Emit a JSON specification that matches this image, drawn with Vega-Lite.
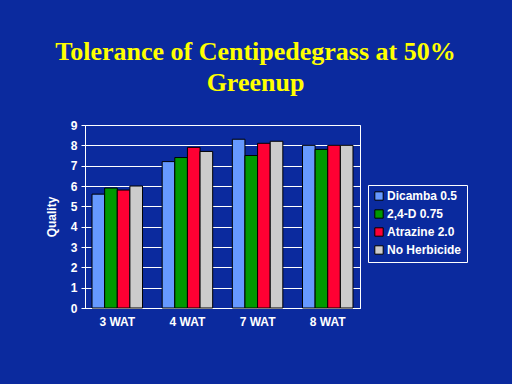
{
  "$schema": "https://vega.github.io/schema/vega-lite/v6.json",
  "autosize": {"type": "none"},
  "width": 275,
  "height": 183,
  "padding": {"left": 85, "top": 125, "right": 152, "bottom": 76},
  "background": "#0b2a9e",
  "title": {
    "text": ["Tolerance of Centipedegrass at 50%", "Greenup"],
    "font": "Liberation Serif",
    "fontSize": 26,
    "fontWeight": "bold",
    "color": "#ffff00",
    "lineHeight": 31,
    "anchor": "middle",
    "dx": 33,
    "offset": 23
  },
  "data": {
    "values": [
      {"week": "3 WAT", "treatment": "Dicamba 0.5", "quality": 5.6},
      {"week": "3 WAT", "treatment": "2,4-D 0.75", "quality": 5.9},
      {"week": "3 WAT", "treatment": "Atrazine 2.0", "quality": 5.8},
      {"week": "3 WAT", "treatment": "No Herbicide", "quality": 6.0},
      {"week": "4 WAT", "treatment": "Dicamba 0.5", "quality": 7.2},
      {"week": "4 WAT", "treatment": "2,4-D 0.75", "quality": 7.4},
      {"week": "4 WAT", "treatment": "Atrazine 2.0", "quality": 7.9},
      {"week": "4 WAT", "treatment": "No Herbicide", "quality": 7.7},
      {"week": "7 WAT", "treatment": "Dicamba 0.5", "quality": 8.3},
      {"week": "7 WAT", "treatment": "2,4-D 0.75", "quality": 7.5},
      {"week": "7 WAT", "treatment": "Atrazine 2.0", "quality": 8.1},
      {"week": "7 WAT", "treatment": "No Herbicide", "quality": 8.2},
      {"week": "8 WAT", "treatment": "Dicamba 0.5", "quality": 8.0},
      {"week": "8 WAT", "treatment": "2,4-D 0.75", "quality": 7.8},
      {"week": "8 WAT", "treatment": "Atrazine 2.0", "quality": 8.0},
      {"week": "8 WAT", "treatment": "No Herbicide", "quality": 8.0}
    ]
  },
  "mark": {"type": "bar", "stroke": "#000000", "strokeWidth": 1},
  "encoding": {
    "x": {
      "field": "week",
      "type": "nominal",
      "sort": null,
      "title": null,
      "scale": {"paddingInner": 0.28, "paddingOuter": 0.1},
      "axis": {
        "labelAngle": 0,
        "labelColor": "#ffffff",
        "labelFont": "Liberation Sans",
        "labelFontSize": 12,
        "labelFontWeight": "bold",
        "labelPadding": 8,
        "domainColor": "#ffffff",
        "domainWidth": 1,
        "tickColor": "#ffffff",
        "ticks": false,
        "grid": false
      }
    },
    "xOffset": {
      "field": "treatment",
      "type": "nominal",
      "sort": ["Dicamba 0.5", "2,4-D 0.75", "Atrazine 2.0", "No Herbicide"]
    },
    "y": {
      "field": "quality",
      "type": "quantitative",
      "title": "Quality",
      "scale": {"domain": [0, 9], "nice": false},
      "axis": {
        "values": [0, 1, 2, 3, 4, 5, 6, 7, 8, 9],
        "labelColor": "#ffffff",
        "labelFont": "Liberation Sans",
        "labelFontSize": 12,
        "labelFontWeight": "bold",
        "labelPadding": 4,
        "domainColor": "#ffffff",
        "tickColor": "#ffffff",
        "tickSize": 4,
        "gridColor": "#ffffff",
        "gridWidth": 1,
        "gridOpacity": 1,
        "titleColor": "#ffffff",
        "titleFont": "Liberation Sans",
        "titleFontSize": 12,
        "titleFontWeight": "bold",
        "titlePadding": 12
      }
    },
    "color": {
      "field": "treatment",
      "type": "nominal",
      "sort": ["Dicamba 0.5", "2,4-D 0.75", "Atrazine 2.0", "No Herbicide"],
      "scale": {
        "domain": ["Dicamba 0.5", "2,4-D 0.75", "Atrazine 2.0", "No Herbicide"],
        "range": ["#6699ff", "#009900", "#ff0033", "#cccccc"]
      },
      "legend": {
        "title": null,
        "orient": "none",
        "legendX": 283,
        "legendY": 60,
        "symbolType": "square",
        "symbolSize": 70,
        "symbolStrokeColor": "#000000",
        "symbolStrokeWidth": 1,
        "labelColor": "#ffffff",
        "labelFont": "Liberation Sans",
        "labelFontSize": 12,
        "labelFontWeight": "bold",
        "labelOffset": 2,
        "rowPadding": 4,
        "padding": 5,
        "strokeColor": "#ffffff",
        "fillColor": "#0a2a9e"
      }
    }
  },
  "config": {
    "view": {"stroke": "#ffffff", "strokeWidth": 1}
  }
}
